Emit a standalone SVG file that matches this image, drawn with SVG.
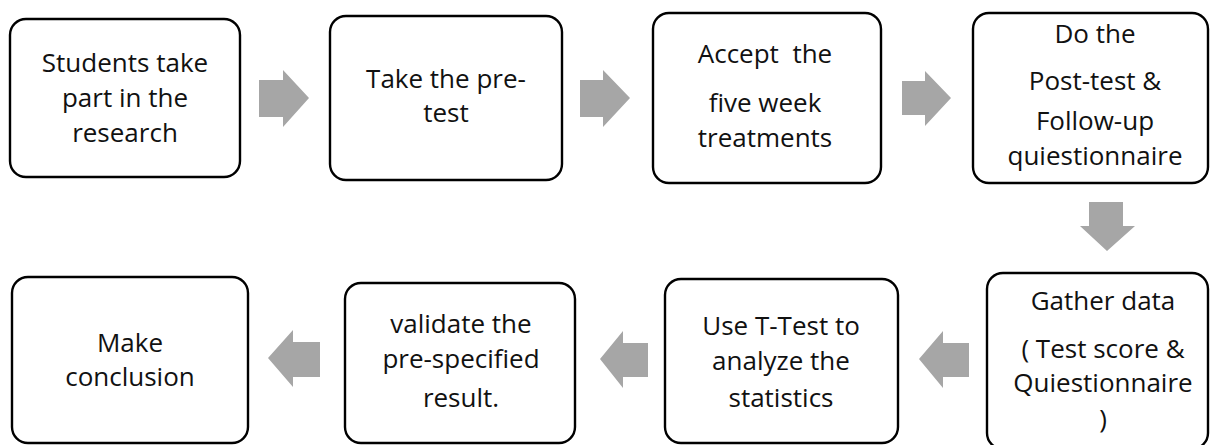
<svg xmlns="http://www.w3.org/2000/svg" width="1211" height="445" viewBox="0 0 1211 445">
<style>
.box{fill:#fff;stroke:#000;stroke-width:2.4}
.t{font-family:"Open Sans","Liberation Sans",sans-serif;font-size:26px;fill:#111;text-anchor:middle}
.arr{fill:#a6a6a6}
</style>
<rect width="1211" height="445" fill="#fff"/>
<g id="connectors">
<polygon class="arr" points="259,80 283,80 283,70 309,98 283,127 283,117 259,117"/>
<polygon class="arr" points="580,80 603,80 603,70 630,98 603,127 603,117 580,117"/>
<polygon class="arr" points="902,81 925,81 925,71 951,98 925,126 925,115 902,115"/>
<polygon class="arr" points="1089,202 1123,202 1123,226 1135,226 1107,251 1080,226 1089,226"/>
<polygon class="arr" points="969,343 943,343 943,331 919,359 943,388 943,377 969,377"/>
<polygon class="arr" points="648,343 623,343 623,331 600,359 623,388 623,377 648,377"/>
<polygon class="arr" points="320,342 293,342 293,330 268,358 293,387 293,377 320,377"/>
</g>
<g id="n1">
<rect class="box" x="10" y="19" width="230" height="158" rx="16"/>
<text class="t" x="125" y="72">Students take</text>
<text class="t" x="125" y="107">part in the</text>
<text class="t" x="125" y="142">research</text>
</g>
<g id="n2">
<rect class="box" x="330" y="16" width="232" height="164" rx="16"/>
<text class="t" x="446" y="88">Take the pre-</text>
<text class="t" x="446" y="122">test</text>
</g>
<g id="n3">
<rect class="box" x="653" y="13" width="228" height="170" rx="16"/>
<text class="t" x="765" y="63" xml:space="preserve">Accept  the</text>
<text class="t" x="765" y="112">five week</text>
<text class="t" x="765" y="147">treatments</text>
</g>
<g id="n4">
<rect class="box" x="973" y="13" width="235" height="170" rx="16"/>
<text class="t" x="1095" y="43">Do the</text>
<text class="t" x="1095" y="90">Post-test &amp;</text>
<text class="t" x="1095" y="130">Follow-up</text>
<text class="t" x="1095" y="165">quiestionnaire</text>
</g>
<g id="n5">
<rect class="box" x="987" y="273" width="221" height="176" rx="16"/>
<text class="t" x="1103" y="310">Gather data</text>
<text class="t" x="1103" y="358">( Test score &amp;</text>
<text class="t" x="1103" y="392">Quiestionnaire</text>
<text class="t" x="1103" y="428">)</text>
</g>
<g id="n6">
<rect class="box" x="665" y="279" width="233" height="164" rx="16"/>
<text class="t" x="781" y="335">Use T-Test to</text>
<text class="t" x="781" y="370">analyze the</text>
<text class="t" x="781" y="407">statistics</text>
</g>
<g id="n7">
<rect class="box" x="345" y="283" width="230" height="160" rx="16"/>
<text class="t" x="461" y="333">validate the</text>
<text class="t" x="461" y="368">pre-specified</text>
<text class="t" x="461" y="407">result.</text>
</g>
<g id="n8">
<rect class="box" x="12" y="277" width="236" height="166" rx="16"/>
<text class="t" x="130" y="352">Make</text>
<text class="t" x="130" y="386">conclusion</text>
</g>
</svg>
